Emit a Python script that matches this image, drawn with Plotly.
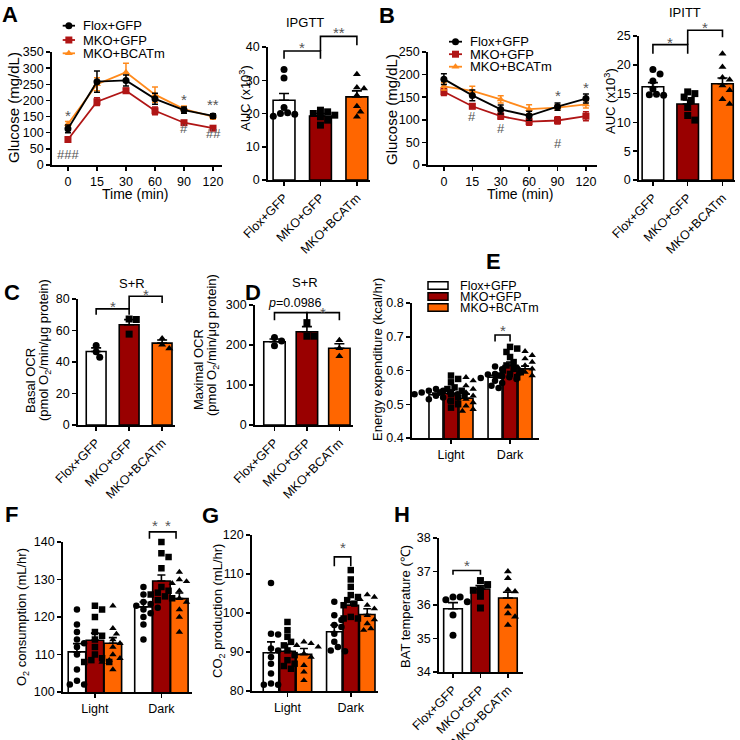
import plotly.graph_objects as go

W = H = 740
FONT = "Liberation Sans, Arial, sans-serif"
GROUPS = ["Flox+GFP", "MKO+GFP", "MKO+BCATm"]
BAR_COLORS = ["#ffffff", "#990000", "#ff6600"]
LINE_COLORS = ["#000000", "#b01515", "#ff8a1c"]
SYMBOLS = ["circle", "square", "triangle-up"]
STAR = "#555555"

# ---------------- data ----------------
time_labels = ["0", "15", "30", "60", "90", "120"]
ipgtt_flox = [112, 258, 262, 205, 170, 152]
ipgtt_flox_err = [12, 33, 17, 17, 10, 7]
ipgtt_mko = [79, 196, 230, 168, 131, 114]
ipgtt_mko_err = [6, 12, 8, 12, 5, 5]
ipgtt_bcat = [127, 250, 287, 218, 173, 150]
ipgtt_bcat_err = [8, 20, 28, 24, 10, 8]

ipitt_flox = [190, 154, 123, 109, 129, 147]
ipitt_flox_err = [12, 12, 10, 10, 8, 10]
ipitt_mko = [162, 130, 108, 96, 98.5, 108]
ipitt_mko_err = [8, 5, 7, 8, 8, 10]
ipitt_bcat = [174, 164, 145, 123.5, 127, 134]
ipitt_bcat_err = [8, 10, 8, 10, 6, 8]

gtt_auc_mean = [24.0, 19.2, 25.0]
gtt_auc_sem = [2.0, 0.8, 1.8]
gtt_auc_flox = [33.2, 30.7, 21.8, 20.2, 19.8, 19.2, 20.0]
gtt_auc_mko = [21.0, 20.5, 20.0, 19.5, 19.0, 18.0, 16.5]
gtt_auc_bcat = [31.8, 27.8, 27.5, 25.5, 22.2, 20.5, 19.0]

itt_auc_mean = [16.2, 13.2, 16.7]
itt_auc_sem = [0.7, 0.7, 1.0]
itt_auc_flox = [19.2, 18.4, 17.2, 15.8, 14.9, 14.7, 14.8]
itt_auc_mko = [15.3, 15.0, 14.4, 13.8, 12.6, 11.2, 10.4]
itt_auc_bcat = [21.9, 19.6, 17.8, 17.4, 16.4, 15.6, 14.0, 13.2]

basal_mean = [46.7, 63.7, 52.0]
basal_sem = [2.3, 3.2, 2.0]
basal_flox = [50.5, 46.5, 43.0]
basal_mko = [67.3, 67.0, 57.7]
basal_bcat = [55.0, 51.0, 48.5]

max_mean = [208, 233, 192]
max_sem = [7, 13, 11]
max_flox = [219, 210, 198]
max_mko = [256, 222, 222]
max_bcat = [212, 192, 172]

period_labels = ["Light", "Dark"]
ee_mean_light = [0.528, 0.532, 0.518]
ee_sem_light = [0.005, 0.010, 0.012]
ee_mean_dark = [0.580, 0.615, 0.605]
ee_sem_dark = [0.006, 0.010, 0.008]
ee_light_flox = [0.545, 0.54, 0.54, 0.535, 0.535, 0.53, 0.53, 0.525, 0.525, 0.52, 0.515, 0.51]
ee_light_mko = [0.585, 0.575, 0.565, 0.55, 0.545, 0.54, 0.535, 0.53, 0.52, 0.51, 0.50, 0.49]
ee_light_bcat = [0.58, 0.57, 0.555, 0.545, 0.535, 0.525, 0.515, 0.505, 0.495, 0.485, 0.48]
ee_dark_flox = [0.612, 0.604, 0.59, 0.588, 0.583, 0.58, 0.578, 0.575, 0.57, 0.563, 0.555, 0.548]
ee_dark_mko = [0.67, 0.665, 0.655, 0.64, 0.625, 0.615, 0.605, 0.60, 0.595, 0.59, 0.585, 0.58]
ee_dark_bcat = [0.657, 0.645, 0.635, 0.625, 0.615, 0.61, 0.605, 0.60, 0.595, 0.59, 0.585, 0.58]

o2_mean_light = [110.7, 113.8, 113.0]
o2_sem_light = [2.2, 1.9, 1.5]
o2_mean_dark = [122.7, 129.6, 124.9]
o2_sem_dark = [1.3, 1.6, 1.5]
o2_light_flox = [122, 118, 116, 114, 113, 112, 110, 106, 103, 102, 102]
o2_light_mko = [123, 122, 120, 116, 115, 114, 112, 110, 109, 108.5, 108, 108]
o2_light_bcat = [123, 117, 115.5, 114, 113, 112, 110, 109, 108.5, 108, 106]
o2_dark_flox = [128, 126, 124, 123.5, 123, 122.5, 122, 121, 120, 118, 114]
o2_dark_mko = [140, 137, 136, 133, 128, 127, 126.5, 126, 125.5, 125, 124.5]
o2_dark_bcat = [132, 130, 129.5, 129, 127, 125, 124, 122, 120, 116]

co2_mean_light = [89.8, 90.2, 89.4]
co2_sem_light = [2.8, 1.8, 1.5]
co2_mean_dark = [95.2, 102.0, 99.6]
co2_sem_dark = [1.7, 0.9, 1.5]
co2_light_flox = [107.7, 94.7, 94.5, 90.9, 90.4, 88.7, 87.0, 84.5, 81.9, 81.6, 81.6]
co2_light_mko = [97.7, 95.6, 93.9, 92.6, 91.7, 90.4, 89.2, 87.9, 87.0, 86.4, 85.7]
co2_light_bcat = [92.6, 92.2, 91.7, 91.3, 89.6, 88.7, 86.6, 84.9, 82.7]
co2_dark_flox = [102.9, 99.4, 98.2, 96.9, 96.4, 94.7, 92.6, 91.3, 90.4, 90.2]
co2_dark_mko = [111.0, 108.6, 106.7, 104.6, 104.1, 103.3, 102.4, 102.0, 99.0, 98.6, 98.6]
co2_dark_bcat = [104.7, 104.1, 103.5, 102.0, 101.1, 99.4, 98.3, 97.3, 96.0, 95.6]

bat_mean = [35.89, 36.48, 36.21]
bat_sem = [0.18, 0.10, 0.17]
bat_flox = [36.24, 36.24, 36.16, 36.1, 35.7, 35.1]
bat_mko = [36.73, 36.61, 36.46, 36.44, 36.26, 35.91]
bat_bcat = [37.0, 36.8, 36.45, 36.4, 35.95, 35.75, 35.65, 35.4]

# ---------------- layout geometry (pixels) ----------------
SPECS = {
    "A1": dict(xpx=(52, 222), ypx=(52, 165), xr=(-0.55, 5.31), yr=(0, 350)),
    "A2": dict(xpx=(268, 370), ypx=(47, 180), xr=(-0.44, 2.36), yr=(0, 40)),
    "B1": dict(xpx=(428, 597), ypx=(52, 165), xr=(-0.56, 5.39), yr=(0, 250)),
    "B2": dict(xpx=(639, 735), ypx=(36, 180), xr=(-0.40, 2.36), yr=(0, 25)),
    "C": dict(xpx=(78, 175), ypx=(299, 425), xr=(-0.55, 2.39), yr=(0, 80)),
    "D": dict(xpx=(255, 353), ypx=(305, 425), xr=(-0.60, 2.42), yr=(0, 300)),
    "E": dict(xpx=(412, 539), ypx=(303, 438), xr=(-0.66, 1.49), yr=(0.4, 0.8)),
    "F": dict(xpx=(63, 192), ypx=(542, 692), xr=(-0.48, 1.46), yr=(100, 140)),
    "G": dict(xpx=(252, 378), ypx=(535, 691), xr=(-0.56, 1.43), yr=(80, 120)),
    "H": dict(xpx=(439, 523), ypx=(538, 672), xr=(-0.51, 2.55), yr=(34, 38)),
}
for i, k in enumerate(["A1", "A2", "B1", "B2", "C", "D", "E", "F", "G", "H"], start=1):
    SPECS[k]["n"] = i


def axname(letter, n, layout=False):
    if layout:
        return f"{letter}axis" if n == 1 else f"{letter}axis{n}"
    return letter if n == 1 else f"{letter}{n}"


def xscale(sp):
    return (sp["xpx"][1] - sp["xpx"][0]) / (sp["xr"][1] - sp["xr"][0])


def yscale(sp):
    return (sp["ypx"][1] - sp["ypx"][0]) / (sp["yr"][1] - sp["yr"][0])


def to_px(sp, xv, yv):
    px = sp["xpx"][0] + (xv - sp["xr"][0]) * xscale(sp)
    py = sp["ypx"][1] - (yv - sp["yr"][0]) * yscale(sp)
    return px, py


def to_paper(sp, xv, yv):
    px, py = to_px(sp, xv, yv)
    return px / W, 1 - py / H


fig = go.Figure()
layout = dict(
    template="none",
    width=W, height=H, margin=dict(l=0, r=0, t=0, b=0, pad=0, autoexpand=False),
    paper_bgcolor="white", plot_bgcolor="rgba(0,0,0,0)",
    showlegend=False, barmode="overlay",
    font=dict(family=FONT, size=12.5, color="black"),
)
annotations = []
shapes = []


def add_axes(key, yt, ytt, xt, xtt, xangle=0):
    sp = SPECS[key]
    n = sp["n"]
    common = dict(showline=True, linecolor="black", linewidth=1.8, ticks="outside",
                  ticklen=4, tickwidth=1.5, tickcolor="black", showgrid=False,
                  zeroline=False, fixedrange=True, automargin=False,
                  tickfont=dict(family=FONT, size=12.5, color="black"))
    lo, hi = sp["yr"]
    layout[axname("x", n, True)] = dict(
        domain=[sp["xpx"][0] / W, sp["xpx"][1] / W], range=list(sp["xr"]),
        anchor=axname("y", n), tickmode="array", tickvals=xt, ticktext=xtt,
        tickangle=xangle, **common)
    layout[axname("y", n, True)] = dict(
        domain=[1 - sp["ypx"][1] / H, 1 - sp["ypx"][0] / H],
        range=[lo, hi + (hi - lo) * 1e-4],
        anchor=axname("x", n), tickmode="array", tickvals=yt, ticktext=ytt, **common)


def ann(text, px, py, size=13, color="black", angle=0, xanchor="center", bold=False):
    if bold:
        text = f"<b>{text}</b>"
    annotations.append(dict(text=text, x=px / W, y=1 - py / H, xref="paper", yref="paper",
                            showarrow=False, xanchor=xanchor, yanchor="middle",
                            textangle=angle, font=dict(family=FONT, size=size, color=color)))


def star(key, xv, yv, text="*", size=15):
    px, py = to_px(SPECS[key], xv, yv)
    ann(text, px, py + (4 if "*" in text else 0), size=size, color=STAR)


def bracket(key, xa, xb, ytop, yla, ylb=None):
    sp = SPECS[key]
    if ylb is None:
        ylb = yla
    x1, y1 = to_paper(sp, xa, yla)
    x2, y2 = to_paper(sp, xa, ytop)
    x3, y3 = to_paper(sp, xb, ytop)
    x4, y4 = to_paper(sp, xb, ylb)
    shapes.append(dict(type="path", xref="paper", yref="paper",
                       path=f"M{x1},{y1} L{x2},{y2} L{x3},{y3} L{x4},{y4}",
                       line=dict(color="black", width=1.6)))


def swarm(key, values, diam=6.5):
    sp = SPECS[key]
    ys = [to_px(sp, 0, v)[1] for v in values]
    order = sorted(range(len(values)), key=lambda i: ys[i])
    step = diam * 0.55
    cands = [0]
    for k in range(1, 12):
        cands += [k * step, -k * step]
    placed = []
    offs = [0.0] * len(values)
    for i in order:
        for c in cands:
            if all((c - ox) ** 2 + (ys[i] - oy) ** 2 >= (diam * 0.92) ** 2 for ox, oy in placed):
                break
        placed.append((c, ys[i]))
        offs[i] = c / xscale(sp)
    return offs


def points(key, center, values, g, size=7):
    sp = SPECS[key]
    n = sp["n"]
    offs = swarm(key, values)
    fig.add_trace(go.Scatter(
        x=[center + o for o in offs], y=values, mode="markers",
        marker=dict(symbol=SYMBOLS[g], size=size, color="black", line=dict(width=0)),
        xaxis=axname("x", n), yaxis=axname("y", n), cliponaxis=False, hoverinfo="skip"))


def bar_panel(key, means, sems, pts, width):
    sp = SPECS[key]
    n = sp["n"]
    fig.add_trace(go.Bar(
        x=[0, 1, 2], y=means, width=width,
        marker=dict(color=BAR_COLORS, line=dict(color="black", width=1.6)),
        error_y=dict(type="data", array=sems, arrayminus=[0] * 3, symmetric=False,
                     color="black", thickness=1.6, width=5),
        xaxis=axname("x", n), yaxis=axname("y", n), hoverinfo="skip"))
    for g in range(3):
        points(key, g, pts[g], g)


def grouped_panel(key, mlight, slight, mdark, sdark, pts, width, off):
    sp = SPECS[key]
    n = sp["n"]
    for g in range(3):
        o = (g - 1) * off
        fig.add_trace(go.Bar(
            x=[0 + o, 1 + o], y=[mlight[g], mdark[g]], width=width,
            marker=dict(color=BAR_COLORS[g], line=dict(color="black", width=1.6)),
            error_y=dict(type="data", array=[slight[g], sdark[g]], arrayminus=[0, 0],
                         symmetric=False, color="black", thickness=1.6, width=4),
            xaxis=axname("x", n), yaxis=axname("y", n), hoverinfo="skip"))
    for g in range(3):
        o = (g - 1) * off
        points(key, 0 + o, pts[0][g], g, size=6.5)
        points(key, 1 + o, pts[1][g], g, size=6.5)


def line_panel(key, series, errs):
    sp = SPECS[key]
    n = sp["n"]
    for g in [1, 2, 0]:
        fig.add_trace(go.Scatter(
            x=list(range(len(time_labels))), y=series[g], mode="lines+markers",
            line=dict(color=LINE_COLORS[g], width=1.8),
            marker=dict(symbol=SYMBOLS[g], size=7, color=LINE_COLORS[g]),
            error_y=dict(type="data", array=errs[g], color=LINE_COLORS[g], thickness=1.5, width=3),
            xaxis=axname("x", n), yaxis=axname("y", n), cliponaxis=False, hoverinfo="skip"))


rng = lambda a, b, s: list(range(a, b + 1, s))

# ---------- A ----------
line_panel("A1", [ipgtt_flox, ipgtt_mko, ipgtt_bcat], [ipgtt_flox_err, ipgtt_mko_err, ipgtt_bcat_err])
add_axes("A1", rng(0, 350, 50), [str(v) for v in rng(0, 350, 50)], list(range(6)), time_labels)
bar_panel("A2", gtt_auc_mean, gtt_auc_sem, [gtt_auc_flox, gtt_auc_mko, gtt_auc_bcat], 0.6)
add_axes("A2", rng(0, 40, 10), [str(v) for v in rng(0, 40, 10)], [0, 1, 2], GROUPS, -45)

# ---------- B ----------
line_panel("B1", [ipitt_flox, ipitt_mko, ipitt_bcat], [ipitt_flox_err, ipitt_mko_err, ipitt_bcat_err])
add_axes("B1", rng(0, 250, 50), [str(v) for v in rng(0, 250, 50)], list(range(6)), time_labels)
bar_panel("B2", itt_auc_mean, itt_auc_sem, [itt_auc_flox, itt_auc_mko, itt_auc_bcat], 0.62)
add_axes("B2", rng(0, 25, 5), [str(v) for v in rng(0, 25, 5)], [0, 1, 2], GROUPS, -45)

# ---------- C, D ----------
bar_panel("C", basal_mean, basal_sem, [basal_flox, basal_mko, basal_bcat], 0.6)
add_axes("C", rng(0, 80, 20), [str(v) for v in rng(0, 80, 20)], [0, 1, 2], GROUPS, -45)
bar_panel("D", max_mean, max_sem, [max_flox, max_mko, max_bcat], 0.66)
add_axes("D", rng(0, 300, 100), [str(v) for v in rng(0, 300, 100)], [0, 1, 2], GROUPS, -45)

# ---------- E, F, G ----------
grouped_panel("E", ee_mean_light, ee_sem_light, ee_mean_dark, ee_sem_dark,
              [[ee_light_flox, ee_light_mko, ee_light_bcat], [ee_dark_flox, ee_dark_mko, ee_dark_bcat]],
              0.237, 0.254)
add_axes("E", [0.4, 0.5, 0.6, 0.7, 0.8], ["0.4", "0.5", "0.6", "0.7", "0.8"], [0, 1], period_labels)
grouped_panel("F", o2_mean_light, o2_sem_light, o2_mean_dark, o2_sem_dark,
              [[o2_light_flox, o2_light_mko, o2_light_bcat], [o2_dark_flox, o2_dark_mko, o2_dark_bcat]],
              0.263, 0.27)
add_axes("F", rng(100, 140, 10), [str(v) for v in rng(100, 140, 10)], [0, 1], period_labels)
grouped_panel("G", co2_mean_light, co2_sem_light, co2_mean_dark, co2_sem_dark,
              [[co2_light_flox, co2_light_mko, co2_light_bcat], [co2_dark_flox, co2_dark_mko, co2_dark_bcat]],
              0.245, 0.26)
add_axes("G", rng(80, 120, 10), [str(v) for v in rng(80, 120, 10)], [0, 1], period_labels)

# ---------- H ----------
bar_panel("H", bat_mean, bat_sem, [bat_flox, bat_mko, bat_bcat], 0.68)
add_axes("H", rng(34, 38, 1), [str(v) for v in rng(34, 38, 1)], [0, 1, 2], GROUPS, -45)

# ---------- legends (overlay pixel axes) ----------
layout["xaxis11"] = dict(domain=[0, 1], range=[0, W], visible=False, fixedrange=True, automargin=False)
layout["yaxis11"] = dict(domain=[0, 1], range=[H, 0], visible=False, fixedrange=True, automargin=False)
for (lx0, lx1, tx, rows) in [(62.7, 75, 81, [25.7, 40, 53.3]), (449, 462, 468, [41.7, 54.2, 66.7])]:
    for g in range(3):
        fig.add_trace(go.Scatter(x=[lx0, lx1], y=[rows[g], rows[g]], mode="lines",
                                 line=dict(color=LINE_COLORS[g], width=1.8),
                                 xaxis="x11", yaxis="y11", hoverinfo="skip"))
        fig.add_trace(go.Scatter(x=[(lx0 + lx1) / 2], y=[rows[g]], mode="markers",
                                 marker=dict(symbol=SYMBOLS[g], size=7, color=LINE_COLORS[g]),
                                 xaxis="x11", yaxis="y11", hoverinfo="skip"))
        ann(GROUPS[g], tx, rows[g], size=13, xanchor="left")

for g, row in enumerate([285.5, 296.5, 307.5]):
    shapes.append(dict(type="rect", xref="paper", yref="paper",
                       x0=428 / W, x1=448 / W, y0=1 - (row + 3.7) / H, y1=1 - (row - 3.7) / H,
                       fillcolor=BAR_COLORS[g], line=dict(color="black", width=1.5)))
    ann(GROUPS[g], 458, row, size=12.5, xanchor="left")

# ---------- significance ----------
star("A1", 0, 166); star("A1", 0, 32, "###", 13)
star("A1", 4, 216); star("A1", 4, 112, "#", 13)
star("A1", 5, 200, "**"); star("A1", 5, 97, "##", 13)
star("B1", 4, 163); star("B1", 5, 180)
star("B1", 1, 107, "#", 13); star("B1", 2, 81, "#", 13); star("B1", 4, 48, "#", 13)

bracket("A2", 0, 1, 38.8, 36.5)
bracket("A2", 1, 2, 43.2, 38.8, 40.5)
star("A2", 0.5, 41.0); star("A2", 1.5, 45.5, "**")
bracket("B2", 0, 1, 23.5, 21.9)
bracket("B2", 1, 2, 26.0, 23.5, 24.8)
star("B2", 0.5, 24.6); star("B2", 1.5, 27.2)
bracket("C", 0, 1, 73.7, 70.0)
bracket("C", 1, 2, 81.7, 73.7, 77.5)
star("C", 0.5, 78.0); star("C", 1.5, 85.6)
bracket("D", 0, 1, 281, 262)
bracket("D", 1, 2, 281, 262)
px_, py_ = to_px(SPECS["D"], 0.62, 306)
ann("<i>p</i>=0.0986", px_, py_, size=12.5)
star("D", 1.5, 292)
bracket("E", 1 - 0.254, 1, 0.705, 0.686)
star("E", 1 - 0.127, 0.73)
bracket("F", 0.82, 1.22, 142.7, 140.9)
star("F", 0.9, 145.6); star("F", 1.1, 145.6)
bracket("G", 1 - 0.26, 1, 114.4, 112.0)
star("G", 0.87, 117.8)
bracket("H", 0, 1, 37.03, 36.9)
star("H", 0.5, 37.3)

# ---------- titles / axis titles ----------
ann("IPGTT", 305, 22, size=13)
ann("IPITT", 685, 12, size=13)
ann("S+R", 132, 283, size=13)
ann("S+R", 305, 282, size=13)
ann("Time (min)", 135, 194, size=14)
ann("Time (min)", 520, 194, size=14)
ann("Glucose (mg/dL)", 13, 108, size=15, angle=-90)
ann("Glucose (mg/dL)", 391, 110, size=15, angle=-90)
ann("AUC (x10<sup>3</sup>)", 245, 98, size=13, angle=-90)
ann("AUC (x10<sup>3</sup>)", 610, 101, size=13, angle=-90)
ann("Basal OCR", 31, 381, size=13, angle=-90)
ann("(pmol O<sub>2</sub>/min/μg protein)", 44, 350, size=13, angle=-90)
ann("Maximal OCR", 198, 370, size=13, angle=-90)
ann("(pmol O<sub>2</sub>/min/μg protein)", 212, 345, size=13, angle=-90)
ann("Energy expenditure (kcal/hr)", 377, 360, size=13, angle=-90)
ann("O<sub>2</sub> consumption (mL/hr)", 22, 617, size=13, angle=-90)
ann("CO<sub>2</sub> production (mL/hr)", 218, 611, size=13, angle=-90)
ann("BAT temperature (℃)", 405, 606, size=13, angle=-90)

for letter, x, y in [("A", 10, 14), ("B", 387, 15), ("C", 12, 292), ("D", 253, 292),
                     ("E", 493, 262), ("F", 11, 514), ("G", 211, 515), ("H", 402, 514)]:
    ann(letter, x, y, size=22, bold=True)

layout["annotations"] = annotations
layout["shapes"] = shapes
fig.update_layout(**layout)
fig.write_html("out.html", config={"displayModeBar": False, "staticPlot": True},
               post_script="document.body.style.margin='0px';document.body.style.padding='0px';")
